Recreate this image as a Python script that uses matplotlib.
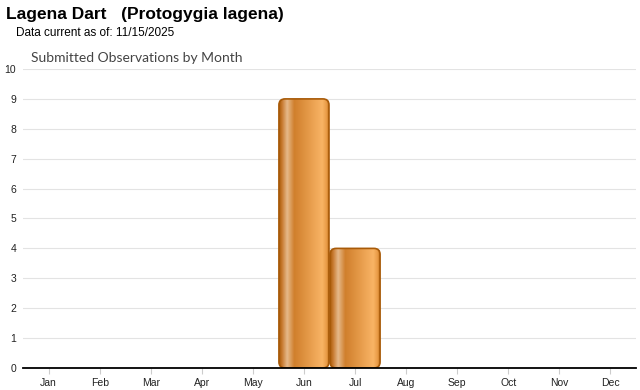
import numpy as np
import matplotlib.pyplot as plt
from matplotlib.patches import FancyBboxPatch
from matplotlib.colors import LinearSegmentedColormap

months = ['Jan', 'Feb', 'Mar', 'Apr', 'May', 'Jun', 'Jul', 'Aug', 'Sep', 'Oct', 'Nov', 'Dec']
counts = [0, 0, 0, 0, 0, 9, 4, 0, 0, 0, 0, 0]
y_ticks = list(range(0, 11))

plt.rcParams['font.family'] = ['Liberation Sans', 'DejaVu Sans']

fig = plt.figure(figsize=(6.4, 3.9), dpi=100)
ax = fig.add_axes([23 / 640, 1 - 368 / 390, 613 / 640, 299 / 390])

# horizontal gradient for the bars
bar_cmap = LinearSegmentedColormap.from_list('bar', [
    (0.0, '#a85a08'),
    (0.06, '#c87a30'),
    (0.16, '#e6b98a'),
    (0.30, '#d07f2c'),
    (0.85, '#f9b465'),
    (0.94, '#e89a45'),
    (1.0, '#a85a08'),
])
grad = np.linspace(0, 1, 256).reshape(1, -1)

bar_w = 0.98
for i, v in enumerate(counts):
    if v <= 0:
        continue
    x0 = i - bar_w / 2
    patch = FancyBboxPatch((x0, 0), bar_w, v,
                           boxstyle='round,pad=0,rounding_size=0.12',
                           mutation_aspect=1.7,
                           facecolor='none', edgecolor='#a85a08', lw=1.2, zorder=3)
    ax.add_patch(patch)
    im = ax.imshow(grad, cmap=bar_cmap, aspect='auto', extent=(x0, x0 + bar_w, 0, v),
                   zorder=2, interpolation='bilinear')
    im.set_clip_path(patch)

ax.set_xlim(-0.5, 11.5)
ax.set_ylim(0, 10)
ax.set_xticks(range(12))
ax.set_xticklabels(months, fontsize=7.5, color='#222222')
ax.set_yticks(y_ticks)
ax.set_yticklabels([str(t) for t in y_ticks], fontsize=7.5, color='#222222')
ax.tick_params(axis='x', length=4, color='#cccccc', pad=3)
ax.tick_params(axis='y', length=0, pad=5)
ax.grid(axis='y', color='#e3e3e3', lw=0.8, zorder=0)
ax.set_axisbelow(True)
for s in ['top', 'right', 'left']:
    ax.spines[s].set_visible(False)
ax.spines['bottom'].set_color('black')
ax.spines['bottom'].set_linewidth(1.3)
ax.spines['bottom'].set_zorder(4)

fig.text(6 / 640, 1 - 15 / 390, 'Lagena Dart   (Protogygia lagena)', fontsize=12.5,
         fontweight='bold', va='center', ha='left')
fig.text(16 / 640, 1 - 33 / 390, 'Data current as of: 11/15/2025', fontsize=8.5,
         va='center', ha='left')
fig.text(31 / 640, 1 - 58 / 390, 'Submitted Observations by Month', fontsize=10,
         color='#444444', va='center', ha='left', family=['Lato', 'DejaVu Sans'])

fig.savefig('out.png', dpi=100)
